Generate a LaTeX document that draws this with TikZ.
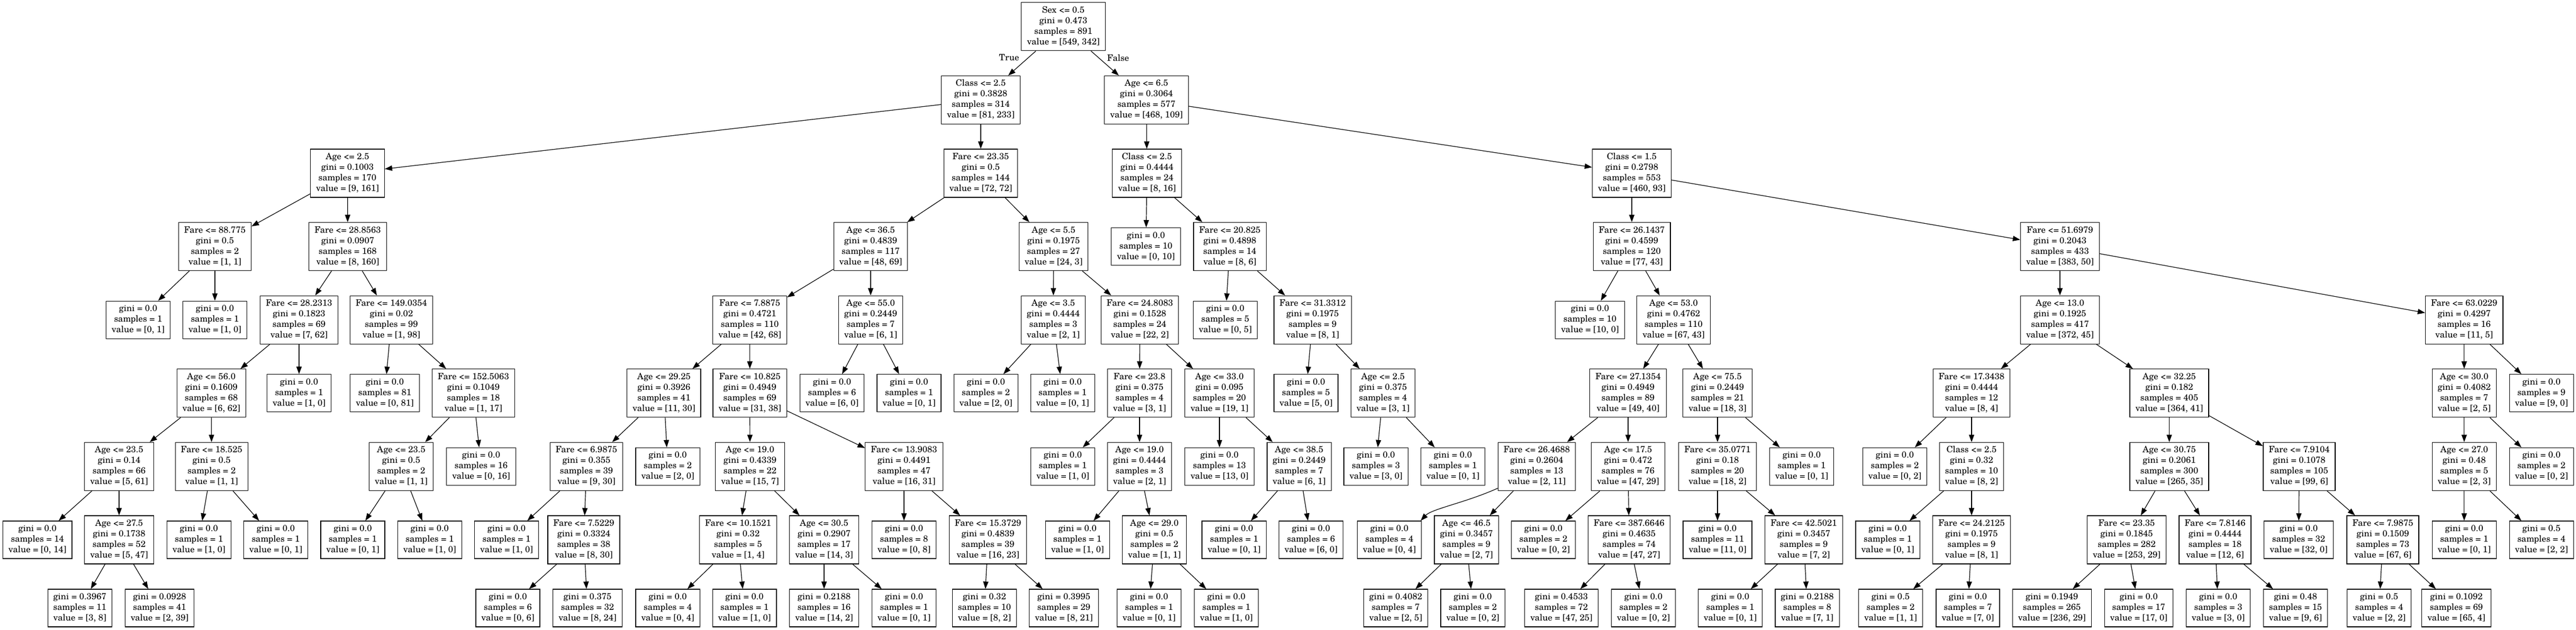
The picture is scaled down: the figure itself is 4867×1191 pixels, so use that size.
\documentclass[tikz,border=0pt]{standalone}
\usepackage{fontspec}
\setmainfont{TeX Gyre Schola}
\usetikzlibrary{arrows.meta}
\tikzset{
  tn/.style={draw, line width=1.2pt, align=center, inner xsep=10.5pt, inner ysep=5.5pt,
    font=\fontsize{16.7}{20}\selectfont},
  ed/.style={draw, line width=1.2pt, -{Triangle[length=14pt,width=10pt]}},
  lbl/.style={inner sep=0pt, font=\fontsize{16.7}{20}\selectfont}
}
\newcommand{\NI}[8]{\node[tn] (#1) at (#2,#3) {\strut #4\\ \strut gini = #5\\ \strut samples = #6\\ \strut value = [#7]};
  \draw[ed] (#8) -- (#1);}
\newcommand{\NL}[7]{\node[tn] (#1) at (#2,#3) {\strut gini = #4\\ \strut samples = #5\\ \strut value = [#6]};
  \draw[ed] (#7) -- (#1);}
\begin{document}
\begin{tikzpicture}[x=1pt,y=-1pt]
\fill[white] (0,0) rectangle (4867,1191);
\useasboundingbox (0,0) rectangle (4867,1191);
% level 0
\node[tn] (root) at (2009,50.3) {\strut Sex <= 0.5\\ \strut gini = 0.473\\ \strut samples = 891\\ \strut value = [549, 342]};
\node[lbl] (tT) at (1906.5,109) {True};
\node[lbl] (tF) at (2112.5,109) {False};
% level 1
\NI{n1}{1853}{188.9}{Class <= 2.5}{0.3828}{314}{81, 233}{root}
\NI{n2}{2166}{188.9}{Age <= 6.5}{0.3064}{577}{468, 109}{root}
% level 2
\NI{a}{656.5}{327.5}{Age <= 2.5}{0.1003}{170}{9, 161}{n1}
\NI{b}{1853}{327.5}{Fare <= 23.35}{0.5}{144}{72, 72}{n1}
\NI{c}{2167}{327.5}{Class <= 2.5}{0.4444}{24}{8, 16}{n2}
\NI{d}{3083}{327.5}{Class <= 1.5}{0.2798}{553}{460, 93}{n2}
% level 3
\NI{a1}{406}{466.1}{Fare <= 88.775}{0.5}{2}{1, 1}{a}
\NI{a2}{657}{466.1}{Fare <= 28.8563}{0.0907}{168}{8, 160}{a}
\NI{b1}{1645}{466.1}{Age <= 36.5}{0.4839}{117}{48, 69}{b}
\NI{b2}{1990.6}{466.1}{Age <= 5.5}{0.1975}{27}{24, 3}{b}
\NL{c1}{2165}{466.1}{0.0}{10}{0, 10}{c}
\NI{c2}{2323.6}{466.1}{Fare <= 20.825}{0.4898}{14}{8, 6}{c}
\NI{d1}{3083}{466.1}{Fare <= 26.1437}{0.4599}{120}{77, 43}{d}
\NI{d2}{3892}{466.1}{Fare <= 51.6979}{0.2043}{433}{383, 50}{d}
% level 4
\NL{a1a}{261}{604.7}{0.0}{1}{0, 1}{a1}
\NL{a1b}{406}{604.7}{0.0}{1}{1, 0}{a1}
\NI{a2a}{565}{604.7}{Fare <= 28.2313}{0.1823}{69}{7, 62}{a2}
\NI{a2b}{739.5}{604.7}{Fare <= 149.0354}{0.02}{99}{1, 98}{a2}
\NI{b1a}{1416.7}{604.7}{Fare <= 7.8875}{0.4721}{110}{42, 68}{b1}
\NI{b1b}{1645}{604.7}{Age <= 55.0}{0.2449}{7}{6, 1}{b1}
\NI{b2a}{1990}{604.7}{Age <= 3.5}{0.4444}{3}{2, 1}{b2}
\NI{b2b}{2153.6}{604.7}{Fare <= 24.8083}{0.1528}{24}{22, 2}{b2}
\NL{c2a}{2315}{604.7}{0.0}{5}{0, 5}{c2}
\NI{c2b}{2480}{604.7}{Fare <= 31.3312}{0.1975}{9}{8, 1}{c2}
\NL{d1a}{3004}{604.7}{0.0}{10}{10, 0}{d1}
\NI{d1b}{3162}{604.7}{Age <= 53.0}{0.4762}{110}{67, 43}{d1}
\NI{d2a}{3892}{604.7}{Age <= 13.0}{0.1925}{417}{372, 45}{d2}
\NI{d2b}{4655.7}{604.7}{Fare <= 63.0229}{0.4297}{16}{11, 5}{d2}
% level 5
\NI{a2a1}{399.3}{743.3}{Age <= 56.0}{0.1609}{68}{6, 62}{a2a}
\NL{a2a2}{565}{743.3}{0.0}{1}{1, 0}{a2a}
\NL{a2b1}{727}{743.3}{0.0}{81}{0, 81}{a2b}
\NI{a2b2}{894.4}{743.3}{Fare <= 152.5063}{0.1049}{18}{1, 17}{a2b}
\NI{b1a1}{1254.4}{743.3}{Age <= 29.25}{0.3926}{41}{11, 30}{b1a}
\NI{b1a2}{1416.7}{743.3}{Fare <= 10.825}{0.4949}{69}{31, 38}{b1a}
\NL{b1b1}{1572}{743.3}{0.0}{6}{6, 0}{b1b}
\NL{b1b2}{1717.5}{743.3}{0.0}{1}{0, 1}{b1b}
\NL{b2a1}{1862.7}{743.3}{0.0}{2}{2, 0}{b2a}
\NL{b2a2}{2007.7}{743.3}{0.0}{1}{0, 1}{b2a}
\NI{b2b1}{2153}{743.3}{Fare <= 23.8}{0.375}{4}{3, 1}{b2b}
\NI{b2b2}{2304}{743.3}{Age <= 33.0}{0.095}{20}{19, 1}{b2b}
\NL{c2b1}{2467.5}{743.3}{0.0}{5}{5, 0}{c2b}
\NI{c2b2}{2613}{743.3}{Age <= 2.5}{0.375}{4}{3, 1}{c2b}
\NI{d1b1}{3076}{743.3}{Fare <= 27.1354}{0.4949}{89}{49, 40}{d1b}
\NI{d1b2}{3245}{743.3}{Age <= 75.5}{0.2449}{21}{18, 3}{d1b}
\NI{d2a1}{3725}{743.3}{Fare <= 17.3438}{0.4444}{12}{8, 4}{d2a}
\NI{d2a2}{4098.5}{743.3}{Age <= 32.25}{0.182}{405}{364, 41}{d2a}
\NI{d2b1}{4655.7}{743.3}{Age <= 30.0}{0.4082}{7}{2, 5}{d2b}
\NL{d2b2}{4801.7}{743.3}{0.0}{9}{9, 0}{d2b}
% level 6
\NI{a2a1a}{225}{881.9}{Age <= 23.5}{0.14}{66}{5, 61}{a2a1}
\NI{a2a1b}{399.8}{881.9}{Fare <= 18.525}{0.5}{2}{1, 1}{a2a1}
\NI{a2b2a}{758}{881.9}{Age <= 23.5}{0.5}{2}{1, 1}{a2b2}
\NL{a2b2b}{909}{881.9}{0.0}{16}{0, 16}{a2b2}
\NI{b1a1a}{1108}{881.9}{Fare <= 6.9875}{0.355}{39}{9, 30}{b1a1}
\NL{b1a1b}{1261.6}{881.9}{0.0}{2}{2, 0}{b1a1}
\NI{b1a2a}{1417}{881.9}{Age <= 19.0}{0.4339}{22}{15, 7}{b1a2}
\NI{b1a2b}{1708}{881.9}{Fare <= 13.9083}{0.4491}{47}{16, 31}{b1a2}
\NL{b2b1a}{2008}{881.9}{0.0}{1}{1, 0}{b2b1}
\NI{b2b1b}{2153}{881.9}{Age <= 19.0}{0.4444}{3}{2, 1}{b2b1}
\NL{b2b2a}{2304}{881.9}{0.0}{13}{13, 0}{b2b2}
\NI{b2b2b}{2454.5}{881.9}{Age <= 38.5}{0.2449}{7}{6, 1}{b2b2}
\NL{c2b2a}{2599.6}{881.9}{0.0}{3}{3, 0}{c2b2}
\NL{c2b2b}{2745}{881.9}{0.0}{1}{0, 1}{c2b2}
\NI{d1b1a}{2903.5}{881.9}{Fare <= 26.4688}{0.2604}{13}{2, 11}{d1b1}
\NI{d1b1b}{3076}{881.9}{Age <= 17.5}{0.472}{76}{47, 29}{d1b1}
\NI{d1b2a}{3245}{881.9}{Fare <= 35.0771}{0.18}{20}{18, 2}{d1b2}
\NL{d1b2b}{3404}{881.9}{0.0}{1}{0, 1}{d1b2}
\NL{d2a1a}{3580}{881.9}{0.0}{2}{0, 2}{d2a1}
\NI{d2a1b}{3725}{881.9}{Class <= 2.5}{0.32}{10}{8, 2}{d2a1}
\NI{d2a2a}{4098.5}{881.9}{Age <= 30.75}{0.2061}{300}{265, 35}{d2a2}
\NI{d2a2b}{4344}{881.9}{Fare <= 7.9104}{0.1078}{105}{99, 6}{d2a2}
\NI{d2b1a}{4655.7}{881.9}{Age <= 27.0}{0.48}{5}{2, 3}{d2b1}
\NL{d2b1b}{4801.7}{881.9}{0.0}{2}{0, 2}{d2b1}
% level 7
\NL{a2a1a1}{70.7}{1020.5}{0.0}{14}{0, 14}{a2a1a}
\NI{a2a1a2}{225}{1020.5}{Age <= 27.5}{0.1738}{52}{5, 47}{a2a1a}
\NL{a2a1b1}{375.8}{1020.5}{0.0}{1}{1, 0}{a2a1b}
\NL{a2a1b2}{521}{1020.5}{0.0}{1}{0, 1}{a2a1b}
\NL{a2b2a1}{666.5}{1020.5}{0.0}{1}{0, 1}{a2b2a}
\NL{a2b2a2}{811.8}{1020.5}{0.0}{1}{1, 0}{a2b2a}
\NL{b1a1a1}{957}{1020.5}{0.0}{1}{1, 0}{b1a1a}
\NI{b1a1a2}{1103}{1020.5}{Fare <= 7.5229}{0.3324}{38}{8, 30}{b1a1a}
\NI{b1a2a1}{1394.5}{1020.5}{Fare <= 10.1521}{0.32}{5}{1, 4}{b1a2a}
\NI{b1a2a2}{1557}{1020.5}{Age <= 30.5}{0.2907}{17}{14, 3}{b1a2a}
\NL{b1a2b1}{1708}{1020.5}{0.0}{8}{0, 8}{b1a2b}
\NI{b1a2b2}{1866.6}{1020.5}{Fare <= 15.3729}{0.4839}{39}{16, 23}{b1a2b}
\NL{b2b1b1}{2035.7}{1020.5}{0.0}{1}{1, 0}{b2b1b}
\NI{b2b1b2}{2181}{1020.5}{Age <= 29.0}{0.5}{2}{1, 1}{b2b1b}
\NL{b2b2b1}{2331.6}{1020.5}{0.0}{1}{0, 1}{b2b2b}
\NL{b2b2b2}{2477}{1020.5}{0.0}{6}{6, 0}{b2b2b}
\node[tn] (d1b1a1) at (2625,1020.5) {\strut gini = 0.0\\ \strut samples = 4\\ \strut value = [0, 4]};
\draw[ed] ([yshift=5pt]d1b1a.south west) .. controls (2770,950) and (2705,962) .. ([xshift=-2pt]d1b1a1.north east);
\NI{d1b1a2}{2770.6}{1020.5}{Age <= 46.5}{0.3457}{9}{2, 7}{d1b1a}
\NL{d1b1b1}{2916}{1020.5}{0.0}{2}{0, 2}{d1b1b}
\NI{d1b1b2}{3078}{1020.5}{Fare <= 387.6646}{0.4635}{74}{47, 27}{d1b1b}
\NL{d1b2a1}{3245}{1020.5}{0.0}{11}{11, 0}{d1b2a}
\NI{d1b2a2}{3408}{1020.5}{Fare <= 42.5021}{0.3457}{9}{7, 2}{d1b2a}
\NL{d2a1b1}{3566.6}{1020.5}{0.0}{1}{0, 1}{d2a1b}
\NI{d2a1b2}{3725}{1020.5}{Fare <= 24.2125}{0.1975}{9}{8, 1}{d2a1b}
\NI{d2a2a1}{4018}{1020.5}{Fare <= 23.35}{0.1845}{282}{253, 29}{d2a2a}
\NI{d2a2a2}{4185}{1020.5}{Fare <= 7.8146}{0.4444}{18}{12, 6}{d2a2a}
\NL{d2a2b1}{4343}{1020.5}{0.0}{32}{32, 0}{d2a2b}
\NI{d2a2b2}{4502}{1020.5}{Fare <= 7.9875}{0.1509}{73}{67, 6}{d2a2b}
\NL{d2b1a1}{4655.7}{1020.5}{0.0}{1}{0, 1}{d2b1a}
\NL{d2b1a2}{4801.7}{1020.5}{0.5}{4}{2, 2}{d2b1a}
% level 8
\NL{a2a1a2a}{150.8}{1149.5}{0.3967}{11}{3, 8}{a2a1a2}
\NL{a2a1a2b}{301.5}{1149.5}{0.0928}{41}{2, 39}{a2a1a2}
\NL{b1a1a2a}{959.5}{1149.5}{0.0}{6}{0, 6}{b1a1a2}
\NL{b1a1a2b}{1110}{1149.5}{0.375}{32}{8, 24}{b1a1a2}
\NL{b1a2a1a}{1261.6}{1149.5}{0.0}{4}{0, 4}{b1a2a1}
\NL{b1a2a1b}{1406.6}{1149.5}{0.0}{1}{1, 0}{b1a2a1}
\NL{b1a2a2a}{1557}{1149.5}{0.2188}{16}{14, 2}{b1a2a2}
\NL{b1a2a2b}{1708}{1149.5}{0.0}{1}{0, 1}{b1a2a2}
\NL{b1a2b2a}{1860}{1149.5}{0.32}{10}{8, 2}{b1a2b2}
\NL{b1a2b2b}{2010}{1149.5}{0.3995}{29}{8, 21}{b1a2b2}
\NL{b2b1b2a}{2171}{1149.5}{0.0}{1}{0, 1}{b2b1b2}
\NL{b2b1b2b}{2317}{1149.5}{0.0}{1}{1, 0}{b2b1b2}
\NL{d1b1a2a}{2637}{1149.5}{0.4082}{7}{2, 5}{d1b1a2}
\NL{d1b1a2b}{2782.6}{1149.5}{0.0}{2}{0, 2}{d1b1a2}
\NL{d1b1b2a}{2950}{1149.5}{0.4533}{72}{47, 25}{d1b1b2}
\NL{d1b1b2b}{3105}{1149.5}{0.0}{2}{0, 2}{d1b1b2}
\NL{d1b2a2a}{3269}{1149.5}{0.0}{1}{0, 1}{d1b2a2}
\NL{d1b2a2b}{3414.5}{1149.5}{0.2188}{8}{7, 1}{d1b2a2}
\NL{d2a1b2a}{3572}{1149.5}{0.5}{2}{1, 1}{d2a1b2}
\NL{d2a1b2b}{3718}{1149.5}{0.0}{7}{7, 0}{d2a1b2}
\NL{d2a2a1a}{3876.7}{1149.5}{0.1949}{265}{236, 29}{d2a2a1}
\NL{d2a2a1b}{4040.7}{1149.5}{0.0}{17}{17, 0}{d2a2a1}
\NL{d2a2a2a}{4191}{1149.5}{0.0}{3}{3, 0}{d2a2a2}
\NL{d2a2a2b}{4337}{1149.5}{0.48}{15}{9, 6}{d2a2a2}
\NL{d2a2b2a}{4495}{1149.5}{0.5}{4}{2, 2}{d2a2b2}
\NL{d2a2b2b}{4641}{1149.5}{0.1092}{69}{65, 4}{d2a2b2}
\end{tikzpicture}
\end{document}
